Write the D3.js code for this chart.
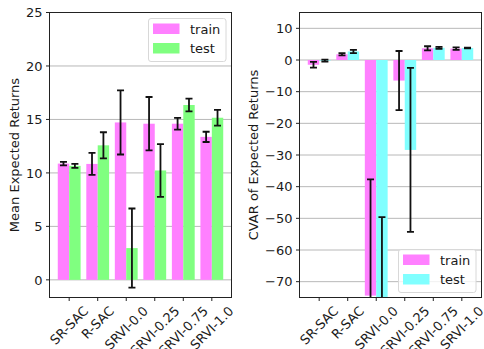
<!DOCTYPE html>
<html>
<head>
<meta charset="utf-8">
<script src="https://cdnjs.cloudflare.com/ajax/libs/d3/7.8.5/d3.min.js"></script>
<style>
  body { margin: 0; background: #fff; }
  svg { display: block; font-family: "DejaVu Sans", sans-serif; }
</style>
</head>
<body>
<div id="output"></div>
<script>
// Data
const categories = ["SR-SAC", "R-SAC", "SRVI-0.0", "SRVI-0.25", "SRVI-0.75", "SRVI-1.0"];

const meanTrain    = [10.87, 10.84, 14.72, 14.6, 14.6, 13.37];
const meanTrainErr = [0.16, 1.03, 3.0, 2.5, 0.55, 0.48];
const meanTest     = [10.66, 12.58, 2.97, 10.23, 16.35, 15.16];
const meanTestErr  = [0.18, 1.22, 3.7, 2.47, 0.6, 0.73];

const cvarTrain    = [-1.5, 1.8, -74.4, -6.5, 3.7, 3.6];
const cvarTrainErr = [0.9, 0.35, 36.7, 9.35, 0.65, 0.4];
const cvarTest     = [-0.2, 2.7, -85, -28.4, 3.85, 3.8];
const cvarTestErr  = [0.3, 0.5, 35.4, 25.9, 0.3, 0.1];

const meanTicks = [0, 5, 10, 15, 20, 25];
const cvarTicks = [-70, -60, -50, -40, -30, -20, -10, 0, 10];

const seriesNames = ["train", "test"];

const W = 484, H = 349;
const fontSize = 13;

const svg = d3.select("#output").append("svg")
  .attr("width", W)
  .attr("height", H);

function drawPanel(cfg) {
  const x = d3.scaleLinear().domain([-0.69, 5.69]).range([cfg.left, cfg.right]);
  const y = d3.scaleLinear().domain(cfg.ylim).range([cfg.bottom, cfg.top]);
  const barW = 0.4;

  const g = svg.append("g");

  // clip to axes area
  g.append("clipPath").attr("id", cfg.id + "-clip")
    .append("rect")
    .attr("x", cfg.left).attr("y", cfg.top)
    .attr("width", cfg.right - cfg.left).attr("height", cfg.bottom - cfg.top);

  // horizontal grid
  g.append("g").selectAll("line")
    .data(cfg.ticks)
    .enter().append("line")
    .attr("x1", cfg.left).attr("x2", cfg.right)
    .attr("y1", d => y(d)).attr("y2", d => y(d))
    .attr("stroke", "#b8b8b8")
    .attr("stroke-width", 1);

  const plot = g.append("g").attr("clip-path", `url(#${cfg.id}-clip)`);

  const series = [
    {vals: cfg.train, errs: cfg.trainErr, off: -barW / 2, color: cfg.colors[0]},
    {vals: cfg.test, errs: cfg.testErr, off: barW / 2, color: cfg.colors[1]}
  ];

  series.forEach(s => {
    plot.append("g").selectAll("rect")
      .data(s.vals)
      .enter().append("rect")
      .attr("x", (d, i) => x(i + s.off - barW / 2))
      .attr("width", x(barW) - x(0))
      .attr("y", d => y(Math.max(0, d)))
      .attr("height", d => Math.abs(y(d) - y(0)))
      .attr("fill", s.color);
  });

  // error bars
  series.forEach(s => {
    const eb = plot.append("g").selectAll("g")
      .data(s.vals)
      .enter().append("g")
      .attr("stroke", "#111")
      .attr("stroke-width", 1.8);
    eb.append("line")
      .attr("x1", (d, i) => x(i + s.off)).attr("x2", (d, i) => x(i + s.off))
      .attr("y1", (d, i) => y(d - s.errs[i])).attr("y2", (d, i) => y(d + s.errs[i]));
    [-1, 1].forEach(sign => {
      eb.append("line")
        .attr("x1", (d, i) => x(i + s.off) - 3.5).attr("x2", (d, i) => x(i + s.off) + 3.5)
        .attr("y1", (d, i) => y(d + sign * s.errs[i])).attr("y2", (d, i) => y(d + sign * s.errs[i]));
    });
  });

  // frame
  g.append("rect")
    .attr("x", cfg.left).attr("y", cfg.top)
    .attr("width", cfg.right - cfg.left).attr("height", cfg.bottom - cfg.top)
    .attr("fill", "none")
    .attr("stroke", "#222")
    .attr("stroke-width", 1);

  // y ticks
  const yt = g.append("g").selectAll("g")
    .data(cfg.ticks)
    .enter().append("g");
  yt.append("line")
    .attr("x1", cfg.left - 3.5).attr("x2", cfg.left)
    .attr("y1", d => y(d)).attr("y2", d => y(d))
    .attr("stroke", "#222");
  yt.append("text")
    .attr("x", cfg.left - 7)
    .attr("y", d => y(d))
    .attr("dy", "0.36em")
    .attr("text-anchor", "end")
    .attr("font-size", fontSize)
    .attr("fill", "#1a1a1a")
    .text(d => d < 0 ? "\u2212" + Math.abs(d) : d);

  // x ticks
  const xt = g.append("g").selectAll("g")
    .data(categories)
    .enter().append("g");
  xt.append("line")
    .attr("x1", (d, i) => x(i)).attr("x2", (d, i) => x(i))
    .attr("y1", cfg.bottom).attr("y2", cfg.bottom + 3.5)
    .attr("stroke", "#222");
  xt.append("text")
    .attr("text-anchor", "middle")
    .attr("dy", "0.35em")
    .attr("font-size", fontSize)
    .attr("fill", "#1a1a1a")
    .text(d => d)
    .attr("transform", function(d, i) {
      const L = this.getComputedTextLength();
      const half = (L + fontSize * 1.1) / (2 * Math.SQRT2);
      return `translate(${x(i)},${cfg.bottom + 6 + half}) rotate(-45)`;
    });

  // y label
  g.append("text")
    .attr("transform", `translate(${cfg.labelX},${(cfg.top + cfg.bottom) / 2}) rotate(-90)`)
    .attr("text-anchor", "middle")
    .attr("font-size", fontSize)
    .attr("fill", "#1a1a1a")
    .text(cfg.ylabel);

  // legend
  const lg = g.append("g").attr("transform", `translate(${cfg.legend[0]},${cfg.legend[1]})`);
  lg.append("rect")
    .attr("x", 0).attr("y", 0)
    .attr("width", 77.5).attr("height", 43)
    .attr("rx", 2.5)
    .attr("fill", "#fff").attr("fill-opacity", 0.8)
    .attr("stroke", "#d8d8d8");
  seriesNames.forEach((name, i) => {
    lg.append("rect")
      .attr("x", 4.5).attr("y", 5 + i * 19.5)
      .attr("width", 26.5).attr("height", 10.5)
      .attr("fill", cfg.colors[i]);
    lg.append("text")
      .attr("x", 41.5).attr("y", 10.5 + i * 19.5)
      .attr("dy", "0.36em")
      .attr("font-size", fontSize)
      .attr("fill", "#1a1a1a")
      .text(name);
  });
}

drawPanel({
  id: "mean",
  left: 49.5, right: 231.5, top: 12.5, bottom: 297.5,
  ylim: [-1.65, 25],
  ticks: meanTicks,
  train: meanTrain, trainErr: meanTrainErr,
  test: meanTest, testErr: meanTestErr,
  colors: ["#ff80ff", "#80ff80"],
  ylabel: "Mean Expected Returns",
  labelX: 18.5,
  legend: [148.5, 18.5]
});

drawPanel({
  id: "cvar",
  left: 299.5, right: 481.5, top: 12.5, bottom: 297.5,
  ylim: [-75, 15],
  ticks: cvarTicks,
  train: cvarTrain, trainErr: cvarTrainErr,
  test: cvarTest, testErr: cvarTestErr,
  colors: ["#ff80ff", "#80ffff"],
  ylabel: "CVAR of Expected Returns",
  labelX: 257.5,
  legend: [398.5, 249.5]
});
</script>
</body>
</html>
